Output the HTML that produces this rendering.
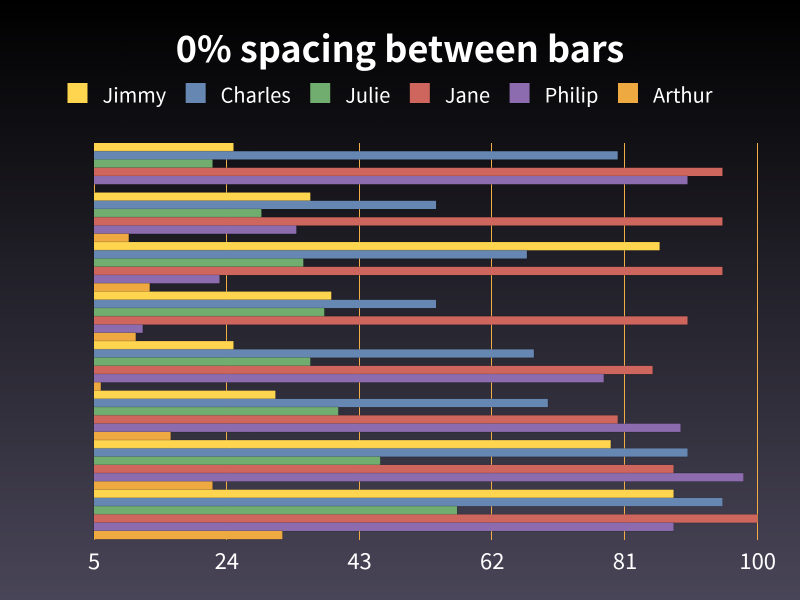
<!DOCTYPE html>
<html>
<head>
<meta charset="utf-8">
<title>0% spacing between bars</title>
<style>
html,body{margin:0;padding:0;background:#000;}
svg{display:block;}
text{font-family:"Noto Sans CJK JP","Liberation Sans",sans-serif;fill:#fff;}
</style>
</head>
<body>
<svg id="chart" xmlns="http://www.w3.org/2000/svg" width="800" height="600" viewBox="0 0 800 600">
<defs>
<linearGradient id="bg" x1="0" y1="0" x2="0" y2="1">
<stop offset="0" stop-color="#000000"/>
<stop offset="1" stop-color="#494558"/>
</linearGradient>
</defs>
<rect x="0" y="0" width="800" height="600" fill="url(#bg)"/>
<text x="400" y="62" text-anchor="middle" font-size="36" font-weight="700">0% spacing between bars</text>
<g id="legend"></g>
<g id="grid"></g>
<g id="bars"></g>
<g id="ticks"></g>
</svg>
<script>
const seriesNames = ["Jimmy", "Charles", "Julie", "Jane", "Philip", "Arthur"];
const seriesColors = ["#ffd54f", "#6787b3", "#71ad6f", "#cf665e", "#8c6cae", "#efa941"];
const jimmy = [25, 36, 86, 39, 25, 31, 79, 88];
const charles = [80, 54, 67, 54, 68, 70, 90, 95];
const julie = [22, 29, 35, 38, 36, 40, 46, 57];
const jane = [95, 95, 95, 90, 85, 80, 88, 100];
const philip = [90, 34, 23, 12, 78, 89, 98, 88];
const arthur = [null, 10, 13, 11, 6, 16, 22, 32];
const tickValues = [5, 24, 43, 62, 81, 100];

const allSeries = [jimmy, charles, julie, jane, philip, arthur];
const NS = "http://www.w3.org/2000/svg";
const plotLeft = 93.8, plotRight = 757.4, plotTop = 143, plotBottom = 539.2;
const domainMin = tickValues[0], domainMax = tickValues[tickValues.length - 1];

function xScale(v) {
  return plotLeft + (v - domainMin) / (domainMax - domainMin) * (plotRight - plotLeft);
}
function snap(x) {
  return Math.floor(x) + 0.5;
}
function make(tag, attrs) {
  const el = document.createElementNS(NS, tag);
  for (const k in attrs) el.setAttribute(k, attrs[k]);
  return el;
}

const gridGroup = document.getElementById("grid");
const tickGroup = document.getElementById("ticks");
tickValues.forEach(function (t) {
  const gx = t === domainMin ? 94.5 : snap(xScale(t));
  const line = make("line", {x1: gx, x2: gx, y1: plotTop, y2: plotBottom + 0.8, stroke: "#f2ad47", "stroke-width": 1});
  
  
  gridGroup.appendChild(line);
  const label = make("text", {x: xScale(t) + 0.3, y: 569, "text-anchor": "middle", "font-size": 22});
  
  
  label.textContent = String(t);
  tickGroup.appendChild(label);
});

const barGroup = document.getElementById("bars");
const barStart = 94;
const groupCount = jimmy.length;
const groupHeight = (plotBottom - plotTop) / groupCount;
const barHeight = groupHeight / seriesNames.length;
for (let g = 0; g < groupCount; g++) {
  allSeries.forEach(function (series, s) {
    const v = series[g];
    if (v === null) return;
    const rect = make("rect", {
      x: barStart,
      y: plotTop + g * groupHeight + s * barHeight,
      width: xScale(v) - barStart,
      height: barHeight,
      fill: seriesColors[s],
      stroke: "rgba(0,0,0,0.25)",
      "stroke-width": 1,
      "paint-order": "stroke"
    });
    
    
    barGroup.appendChild(rect);
  });
}

const legendGroup = document.getElementById("legend");
const legendLeft = 67.5, swatchSize = 20, swatchGap = 15, itemGap = 19.5, legendTop = 83, legendBaseline = 102.5;
const items = seriesNames.map(function (name, s) {
  const swatch = make("rect", {y: legendTop, width: swatchSize, height: swatchSize, fill: seriesColors[s], stroke: "rgba(0,0,0,0.25)", "stroke-width": 1, "paint-order": "stroke"});
  
  
  const label = make("text", {y: legendBaseline, "font-size": 20, "font-weight": 400});
  
  
  label.textContent = name;
  legendGroup.appendChild(swatch);
  legendGroup.appendChild(label);
  return {swatch: swatch, label: label, textWidth: label.getComputedTextLength()};
});
let cursor = legendLeft;
items.forEach(function (it) {
  it.swatch.setAttribute("x", cursor);
  it.label.setAttribute("x", cursor + swatchSize + swatchGap);
  cursor += swatchSize + swatchGap + it.textWidth + itemGap;
});
</script>
</body>
</html>
